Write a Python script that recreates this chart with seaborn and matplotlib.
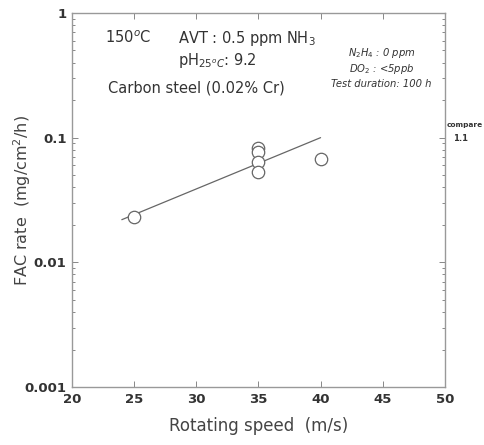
import matplotlib
matplotlib.use("Agg")
import matplotlib.pyplot as plt
import seaborn as sns
import pandas as pd
from matplotlib.ticker import LogLocator, FixedLocator, NullFormatter

# measured FAC rates
speed = [25, 35, 35, 35, 35, 40]
fac_rate = [0.023, 0.083, 0.077, 0.064, 0.053, 0.068]

# fitted trend line
fit_speed = [24, 40]
fit_rate = [0.022, 0.10]

x_ticks = [20, 25, 30, 35, 40, 45, 50]
y_ticks = [0.001, 0.01, 0.1, 1]
y_tick_labels = ["0.001", "0.01", "0.1", "1"]

sns.set_theme(style="ticks")
plt.rcParams['font.family'] = ['DejaVu Sans']

fig = plt.figure(figsize=(4.84, 4.45), dpi=100)
ax = fig.add_axes([0.149, 0.130, 0.770, 0.841])

pts = pd.DataFrame({"speed": speed, "rate": fac_rate})
fit = pd.DataFrame({"speed": fit_speed, "rate": fit_rate})

sns.lineplot(data=fit, x="speed", y="rate", ax=ax, color="#666666", lw=0.9)
sns.scatterplot(data=pts, x="speed", y="rate", ax=ax, s=80, facecolor="white",
                edgecolor="#666666", linewidth=0.9, zorder=3)

ax.set_yscale("log")
ax.set_xlim(20, 50)
ax.set_ylim(0.001, 1)
ax.xaxis.set_major_locator(FixedLocator(x_ticks))
ax.set_xticklabels([str(t) for t in x_ticks], fontsize=9.5, fontweight="bold",
                   color="#333333")
ax.yaxis.set_major_locator(FixedLocator(y_ticks))
ax.set_yticklabels(y_tick_labels, fontsize=9.5, fontweight="bold", color="#333333")
ax.yaxis.set_minor_locator(LogLocator(base=10, subs=range(2, 10)))
ax.yaxis.set_minor_formatter(NullFormatter())
ax.tick_params(which="both", direction="in", top=True, right=True,
               color="#888888", width=0.7)
ax.tick_params(which="major", length=4, pad=4)
ax.tick_params(which="minor", length=2)
for s in ax.spines.values():
    s.set_color("#999999")
    s.set_linewidth(1.0)

ax.set_xlabel("Rotating speed  (m/s)", fontsize=12, color="#444444", labelpad=8)
ax.set_ylabel("FAC rate  (mg/cm$^2$/h)", fontsize=11.5, color="#444444")
ax.yaxis.set_label_coords(-0.105, 0.5)

tc = "#333333"
ax.text(0.088, 0.920, "150$^o$C", transform=ax.transAxes, fontsize=10.5, color=tc)
ax.text(0.285, 0.920, "AVT : 0.5 ppm NH$_3$", transform=ax.transAxes, fontsize=10.5, color=tc)
ax.text(0.285, 0.860, "pH$_{25^oC}$: 9.2", transform=ax.transAxes, fontsize=10.5, color=tc)
ax.text(0.095, 0.787, "Carbon steel (0.02% Cr)", transform=ax.transAxes, fontsize=10.5, color=tc)

ax.text(0.83, 0.885, "N$_2$H$_4$ : 0 ppm", transform=ax.transAxes, fontsize=7.2,
        color=tc, ha="center", style="italic")
ax.text(0.83, 0.843, "DO$_2$ : <5ppb", transform=ax.transAxes, fontsize=7.2,
        color=tc, ha="center", style="italic")
ax.text(0.83, 0.801, "Test duration: 100 h", transform=ax.transAxes, fontsize=7.2,
        color=tc, ha="center", style="italic")

fig.text(0.923, 0.715, "compare", fontsize=5.3, fontweight="bold", color="#333333")
fig.text(0.935, 0.683, "1.1", fontsize=6, fontweight="bold", color="#333333")

fig.savefig("out.png", dpi=100, facecolor="white")
